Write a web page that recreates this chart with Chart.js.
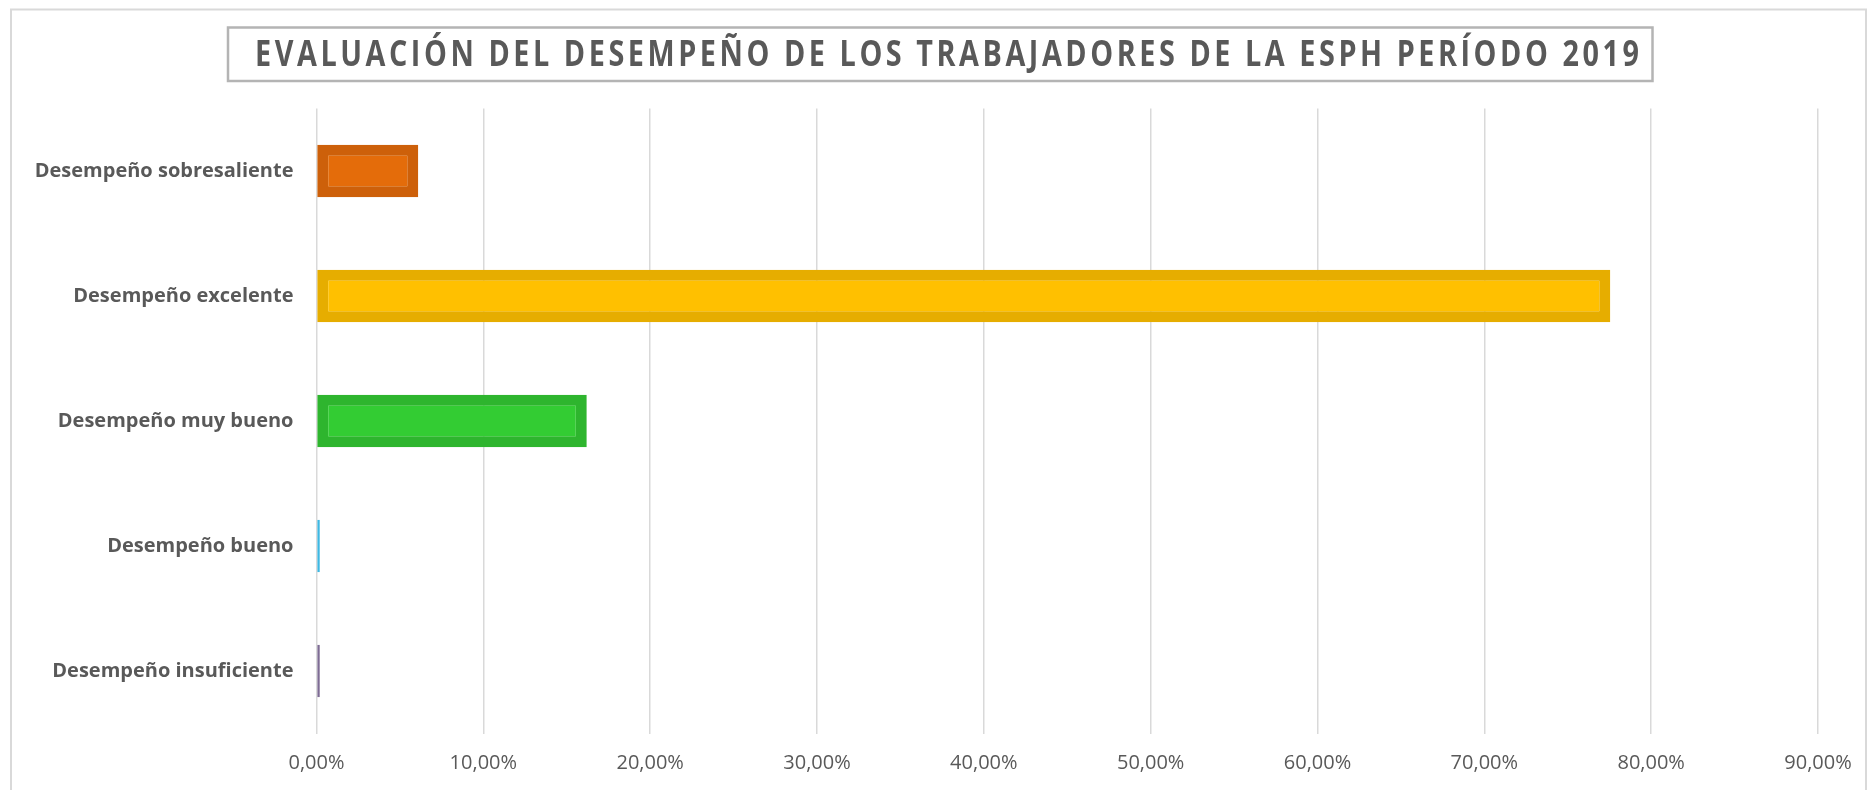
<!DOCTYPE html>
<html>
<head>
<meta charset="utf-8">
<script src="https://cdn.jsdelivr.net/npm/chart.js@4.4.1/dist/chart.umd.min.js"></script>
<style>
  html, body { margin: 0; padding: 0; background: #fff; }
  #wrap { width: 1873px; height: 790px; position: relative; }
</style>
</head>
<body>
<div id="wrap"><canvas id="chart"></canvas></div>
<script>
const chartTitle = 'EVALUACIÓN DEL DESEMPEÑO DE LOS TRABAJADORES DE LA ESPH PERÍODO 2019';
const categories = [
  'Desempeño sobresaliente',
  'Desempeño excelente',
  'Desempeño muy bueno',
  'Desempeño bueno',
  'Desempeño insuficiente'
];
const percentages = [6.1, 77.55, 16.2, 0.2, 0.2];
const fillColors = ['#E46C0A', '#FFC000', '#33CC33', '#3DB8E3', '#7E6C94'];
const edgeColors = ['#CD600A', '#E6AD00', '#2EB52E', '#3DB8E3', '#7E6C94'];
const xTicks = [0, 10, 20, 30, 40, 50, 60, 70, 80, 90];

const textGray = '#595959';

// outer frame + boxed, letter-spaced title (like the Excel chart)
const framePlugin = {
  id: 'frame',
  beforeDraw(chart) {
    const ctx = chart.ctx;
    ctx.save();
    ctx.strokeStyle = '#D9D9D9';
    ctx.lineWidth = 2;
    ctx.strokeRect(11, 9.5, 1855, 800);

    ctx.strokeStyle = '#B4B4B4';
    ctx.lineWidth = 2.5;
    ctx.strokeRect(228, 27.5, 1424.5, 53.5);

    // narrow, tall title text (Calibri-ish look)
    ctx.fillStyle = textGray;
    ctx.font = 'bold 36px "Open Sans"';
    ctx.textBaseline = 'alphabetic';
    ctx.textAlign = 'left';
    const sx = 0.8;
    const startX = 255, endX = 1639;
    const base = ctx.measureText(chartTitle).width * sx;
    const chars = Array.from(chartTitle);
    const spacing = (endX - startX - base) / (chars.length - 1);
    let x = startX;
    for (const ch of chars) {
      ctx.save();
      ctx.translate(x, 66);
      ctx.scale(sx, 1);
      ctx.fillText(ch, 0, 0);
      ctx.restore();
      x += ctx.measureText(ch).width * sx + spacing;
    }
    ctx.restore();
  }
};

new Chart(document.getElementById('chart'), {
  type: 'bar',
  data: {
    labels: categories,
    datasets: [{
      data: percentages,
      backgroundColor: fillColors,
      borderColor: edgeColors,
      borderWidth: 11,
      borderSkipped: false,
      categoryPercentage: 1,
      barPercentage: 0.42
    }]
  },
  options: {
    indexAxis: 'y',
    responsive: true,
    maintainAspectRatio: false,
    animation: false,
    layout: { padding: { left: 0, right: 55, top: 108.5, bottom: 0 } },
    plugins: {
      legend: { display: false },
      title: { display: false },
      tooltip: { enabled: false }
    },
    scales: {
      x: {
        min: 0,
        max: 90,
        afterBuildTicks(scale) {
          scale.ticks = xTicks.map(v => ({ value: v }));
        },
        afterFit(scale) { scale.height = 56.5; },
        grid: { color: '#D9D9D9', lineWidth: 1.5, drawTicks: false },
        border: { display: false },
        ticks: {
          padding: 18,
          color: textGray,
          font: { family: 'Open Sans', size: 20 },
          callback: v => v.toFixed(2).replace('.', ',') + '%'
        }
      },
      y: {
        afterFit(scale) { scale.width = 316.5; },
        grid: { display: false, drawTicks: false },
        border: { display: false },
        ticks: {
          padding: 23,
          color: textGray,
          font: { family: 'Open Sans', size: 20, weight: 'bold' }
        }
      }
    }
  },
  plugins: [framePlugin]
});
</script>
</body>
</html>
